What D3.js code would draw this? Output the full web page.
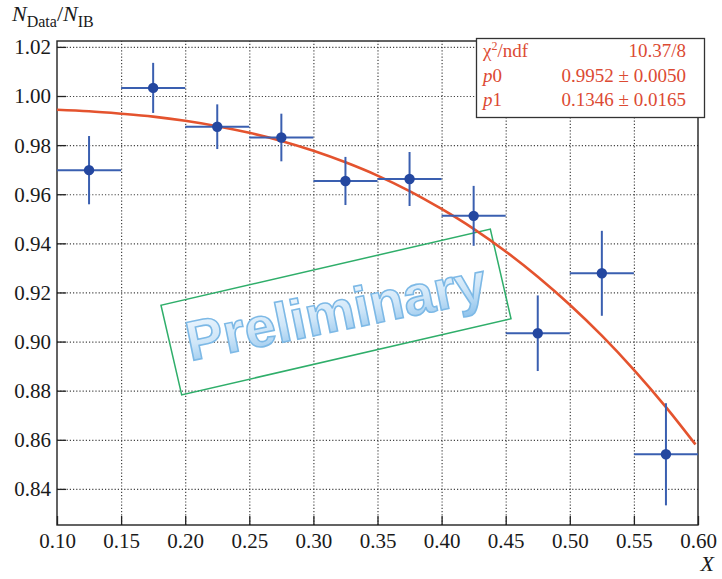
<!DOCTYPE html>
<html>
<head>
<meta charset="utf-8">
<script src="https://cdn.jsdelivr.net/npm/d3@7"></script>
<style>
  body { margin: 0; background: #ffffff; }
  svg { display: block; }
  .tick-label { font-family: 'Liberation Serif', 'Times New Roman', serif; font-size: 21px; fill: #1a1a1a; }
</style>
</head>
<body>
<svg id="chart" width="722" height="579"></svg>
<script>
// bin centres, ratio values and errors
const binCenters = [0.125, 0.175, 0.225, 0.275, 0.325, 0.375, 0.425, 0.475, 0.525, 0.575]
const binHalfWidths = [0.025, 0.025, 0.025, 0.025, 0.025, 0.025, 0.025, 0.025, 0.025, 0.025]
const ratioValues = [0.9698, 1.0033, 0.9875, 0.9831, 0.9654, 0.9662, 0.9512, 0.9034, 0.9278, 0.8541]
const ratioErrors = [0.0139, 0.0102, 0.0091, 0.0097, 0.0098, 0.0110, 0.0122, 0.0154, 0.0173, 0.0208]

// fitted curve
const fitX = [0.100, 0.125, 0.150, 0.175, 0.200, 0.225, 0.250, 0.275, 0.300, 0.325, 0.350,
  0.375, 0.400, 0.425, 0.450, 0.475, 0.500, 0.525, 0.550, 0.575, 0.598]
const fitY = [0.9944, 0.9938, 0.9928, 0.9916, 0.9899, 0.9877, 0.9850, 0.9817, 0.9777, 0.9730, 0.9676,
  0.9613, 0.9540, 0.9459, 0.9367, 0.9264, 0.9150, 0.9024, 0.8885, 0.8733, 0.8581]

const xTicks = [0.10, 0.15, 0.20, 0.25, 0.30, 0.35, 0.40, 0.45, 0.50, 0.55, 0.60]
const yTicks = [0.84, 0.86, 0.88, 0.90, 0.92, 0.94, 0.96, 0.98, 1.00, 1.02]

const legendNames = ['chi2', 'p0', 'p1']
const legendValues = ['10.37/8', '0.9952 \u00b1 0.0050', '0.1346 \u00b1 0.0165']

const stampText = 'Preliminary'

var svg = d3.select('#chart')
var plot = { left: 57, right: 698, top: 41, bottom: 525 }

var x = d3.scaleLinear().domain([0.1, 0.6]).range([plot.left, plot.right])
var y = d3.scaleLinear().domain([0.8253, 1.0224]).range([plot.bottom, plot.top])

var blue = '#2447a0'
var red = '#e4532e'

drawGrid(svg)
drawAxes(svg)
drawStamp(svg)
drawFit(svg)
drawPoints(svg)
drawLegend(svg)
drawTitles(svg)

/**
 * dotted grid lines at every tick
 */
function drawGrid (g) {
  var w = plot.right - plot.left
  var h = plot.bottom - plot.top
  g.append('g')
    .attr('class', 'grid')
    .attr('transform', 'translate(0,' + plot.bottom + ')')
    .call(d3.axisBottom(x).tickValues(xTicks.slice(1, -1)).tickSize(-h).tickFormat(''))
  g.append('g')
    .attr('class', 'grid')
    .attr('transform', 'translate(' + plot.left + ',0)')
    .call(d3.axisLeft(y).tickValues(yTicks).tickSize(-w).tickFormat(''))
  g.selectAll('.grid .domain').remove()
  g.selectAll('.grid line')
    .attr('stroke', '#444')
    .attr('stroke-width', 1.2)
    .attr('stroke-dasharray', '1.2,2')
}

/**
 * frame, inward ticks and tick labels
 */
function drawAxes (g) {
  var xAxis = g.append('g')
    .attr('transform', 'translate(0,' + plot.bottom + ')')
    .call(d3.axisBottom(x).tickValues(xTicks).tickSize(-9).tickFormat(d3.format('.2f')))
  xAxis.selectAll('text').attr('class', 'tick-label').attr('y', 23).attr('dy', null)

  var yAxis = g.append('g')
    .attr('transform', 'translate(' + plot.left + ',0)')
    .call(d3.axisLeft(y).tickValues(yTicks).tickSize(-9).tickPadding(6).tickFormat(d3.format('.2f')))
  yAxis.selectAll('text').attr('class', 'tick-label').attr('dy', '0.33em')

  g.selectAll('.domain').remove()
  g.selectAll('.tick line').filter(function () { return !this.closest('.grid') })
    .attr('stroke', '#222').attr('stroke-width', 1.3)

  g.append('rect')
    .attr('x', plot.left)
    .attr('y', plot.top)
    .attr('width', plot.right - plot.left)
    .attr('height', plot.bottom - plot.top)
    .attr('fill', 'none')
    .attr('stroke', '#222')
    .attr('stroke-width', 1.4)
}

/**
 * the tilted "Preliminary" stamp
 */
function drawStamp (g) {
  var defs = g.append('defs')
  var grad = defs.append('linearGradient')
    .attr('id', 'stampGradient')
    .attr('x1', '0%').attr('x2', '0%')
    .attr('y1', '0%').attr('y2', '100%')
  grad.append('stop').attr('offset', '0%').attr('stop-color', '#f4faff')
  grad.append('stop').attr('offset', '55%').attr('stop-color', '#cfe6f8')
  grad.append('stop').attr('offset', '100%').attr('stop-color', '#8fc3ec')

  var stamp = g.append('g')
    .attr('transform', 'translate(336,312) rotate(-13)')
  stamp.append('rect')
    .attr('x', -169)
    .attr('y', -46)
    .attr('width', 338)
    .attr('height', 92)
    .attr('fill', 'none')
    .attr('stroke', '#2fae6a')
    .attr('stroke-width', 1.5)
  stamp.append('text')
    .text(stampText)
    .attr('x', 0)
    .attr('y', 19)
    .attr('text-anchor', 'middle')
    .attr('font-family', "'Liberation Sans', Arial, sans-serif")
    .attr('font-weight', 'bold')
    .attr('font-size', 56)
    .attr('transform', 'rotate(1.5)')
    .attr('fill', 'url(#stampGradient)')
    .attr('stroke', '#7db9e6')
    .attr('stroke-width', 1.6)
}

/**
 * red fit function
 */
function drawFit (g) {
  var line = d3.line()
    .x(function (d, i) { return x(fitX[i]) })
    .y(function (d) { return y(d) })
    .curve(d3.curveMonotoneX)
  g.append('path')
    .datum(fitY)
    .attr('d', line)
    .attr('fill', 'none')
    .attr('stroke', red)
    .attr('stroke-width', 2.6)
}

/**
 * data points with horizontal bin width and vertical error bars
 */
function drawPoints (g) {
  var pts = g.append('g').selectAll('g')
    .data(ratioValues)
    .enter()
    .append('g')
  pts.append('line')
    .attr('x1', function (d, i) { return x(binCenters[i] - binHalfWidths[i]) })
    .attr('x2', function (d, i) { return x(binCenters[i] + binHalfWidths[i]) })
    .attr('y1', function (d) { return y(d) })
    .attr('y2', function (d) { return y(d) })
    .attr('stroke', '#3a5fb0')
    .attr('stroke-width', 2)
  pts.append('line')
    .attr('x1', function (d, i) { return x(binCenters[i]) })
    .attr('x2', function (d, i) { return x(binCenters[i]) })
    .attr('y1', function (d, i) { return y(d - ratioErrors[i]) })
    .attr('y2', function (d, i) { return y(d + ratioErrors[i]) })
    .attr('stroke', '#3a5fb0')
    .attr('stroke-width', 2)
  pts.append('circle')
    .attr('cx', function (d, i) { return x(binCenters[i]) })
    .attr('cy', function (d) { return y(d) })
    .attr('r', 5.2)
    .attr('fill', blue)
}

/**
 * fit statistics box
 */
function drawLegend (g) {
  var box = g.append('g')
  box.append('rect')
    .attr('x', 476.5)
    .attr('y', 38.5)
    .attr('width', 228)
    .attr('height', 79)
    .attr('fill', '#ffffff')
    .attr('stroke', '#333')
    .attr('stroke-width', 1.3)

  var font = "'Liberation Serif', 'Times New Roman', serif"
  var rows = box.selectAll('g.row')
    .data(legendNames)
    .enter()
    .append('g')
    .attr('class', 'row')
    .attr('transform', function (d, i) { return 'translate(0,' + (57 + i * 24.5) + ')' })

  rows.each(function (d, i) {
    var t = d3.select(this).append('text')
      .attr('x', 483)
      .attr('font-family', font)
      .attr('font-size', 19)
      .attr('fill', '#dc4a33')
    if (d === 'chi2') {
      t.append('tspan').text('\u03c7')
      t.append('tspan').text('2').attr('font-size', 12).attr('dy', -7)
      t.append('tspan').text('/ndf').attr('dy', 7)
    } else {
      t.append('tspan').text(d.charAt(0)).attr('font-style', 'italic')
      t.append('tspan').text(d.slice(1))
    }
    d3.select(this).append('text')
      .text(legendValues[i])
      .attr('x', 686)
      .attr('text-anchor', 'end')
      .attr('font-family', font)
      .attr('font-size', 19)
      .attr('fill', '#dc4a33')
  })
}

/**
 * axis titles
 */
function drawTitles (g) {
  var font = "'Liberation Serif', 'Times New Roman', serif"
  var t = g.append('text')
    .attr('x', 12)
    .attr('y', 21)
    .attr('font-family', font)
    .attr('font-size', 22)
    .attr('fill', '#1a1a1a')
  t.append('tspan').text('N').attr('font-style', 'italic')
  t.append('tspan').text('Data').attr('font-size', 16).attr('dy', 6)
  t.append('tspan').text('/').attr('dy', -6)
  t.append('tspan').text('N').attr('font-style', 'italic')
  t.append('tspan').text('IB').attr('font-size', 16).attr('dy', 6)

  g.append('text')
    .text('X')
    .attr('x', 714)
    .attr('y', 571)
    .attr('text-anchor', 'end')
    .attr('font-family', font)
    .attr('font-style', 'italic')
    .attr('font-size', 22)
    .attr('fill', '#1a1a1a')
}
</script>
</body>
</html>
